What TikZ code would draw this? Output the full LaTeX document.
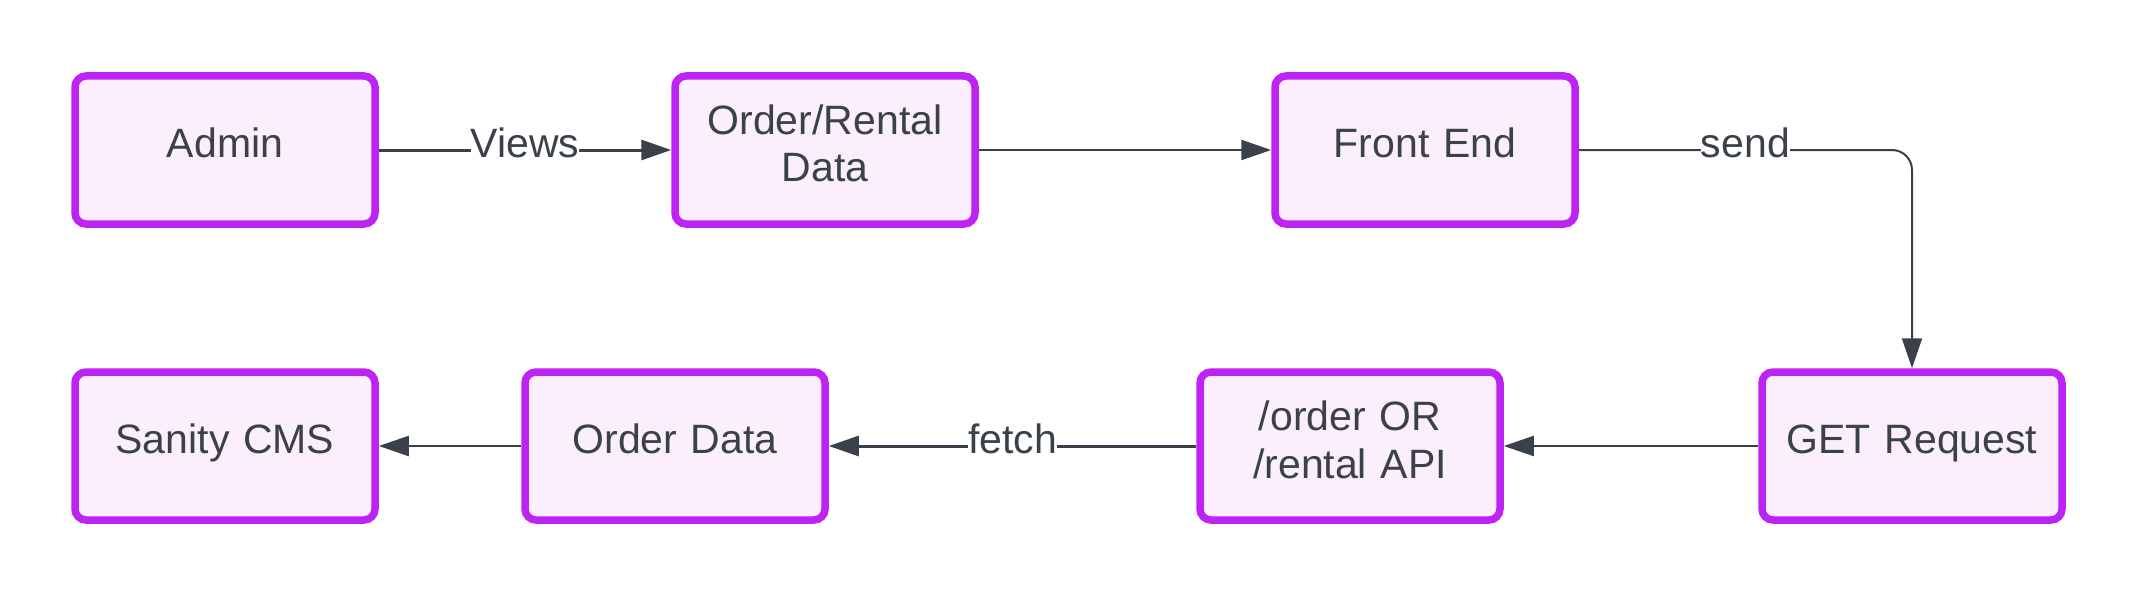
\documentclass[tikz,border=0pt]{standalone}
\usepackage{fontspec}
\setmainfont{Liberation Sans}
\usetikzlibrary{arrows.meta,positioning}
\definecolor{boxline}{HTML}{BD24F3}
\definecolor{boxfill}{HTML}{FBEEFE}
\definecolor{inkgray}{HTML}{3A414A}
\begin{document}
\begin{tikzpicture}
		[x=0.5pt,y=0.5pt,
		block/.style ={rectangle, draw=boxline, line width=3.75pt, fill=boxfill, text=inkgray, text width=140pt, align=center, rounded corners=5.5pt, minimum width=150pt, minimum height=74pt, inner sep=0pt, text height=15pt, text depth=7.3pt, font=\fontsize{20.5}{24}\selectfont},
		twoline/.style ={block, text depth=31pt},
		line/.style ={draw=inkgray, line width=1pt, -{Triangle[length=15pt,width=10pt]}},
		heavy/.style ={line, line width=1.5pt},
		lbl/.style ={fill=white, text=inkgray, inner sep=0pt, text height=15pt, text depth=7.3pt, font=\fontsize{20.5}{24}\selectfont},
		]
		\useasboundingbox (0,0) rectangle (2138,596);

		% top row
		\draw (225,446) node[block] (Admin) {Admin};
		\draw (825,446) node[twoline] (OrderRental) {Order/Rental\\Data};
		\draw (1425,446) node[block] (FrontEnd) {Front End};

		% bottom row
		\draw (225,150) node[block] (Sanity) {Sanity CMS};
		\draw (675,150) node[block] (OrderData) {Order Data};
		\draw (1350,150) node[twoline] (Api) {/order OR\\/rental API};
		\draw (1912,150) node[block] (GetReq) {GET Request};

		\coordinate (sendturn) at (GetReq.north |- FrontEnd.east);

		\path[heavy] (Admin) -- node[lbl] {Views} (OrderRental);
		\path[line] (OrderRental) -- (FrontEnd);
		\path[line, rounded corners=10pt]
		(FrontEnd.east) -- node[lbl] {send} (sendturn) -- (GetReq.north);
		\path[line] (GetReq) -- (Api);
		\path[heavy] (Api) -- node[lbl] {fetch} (OrderData);
		\path[line] (OrderData) -- (Sanity);

	\end{tikzpicture}
\end{document}
